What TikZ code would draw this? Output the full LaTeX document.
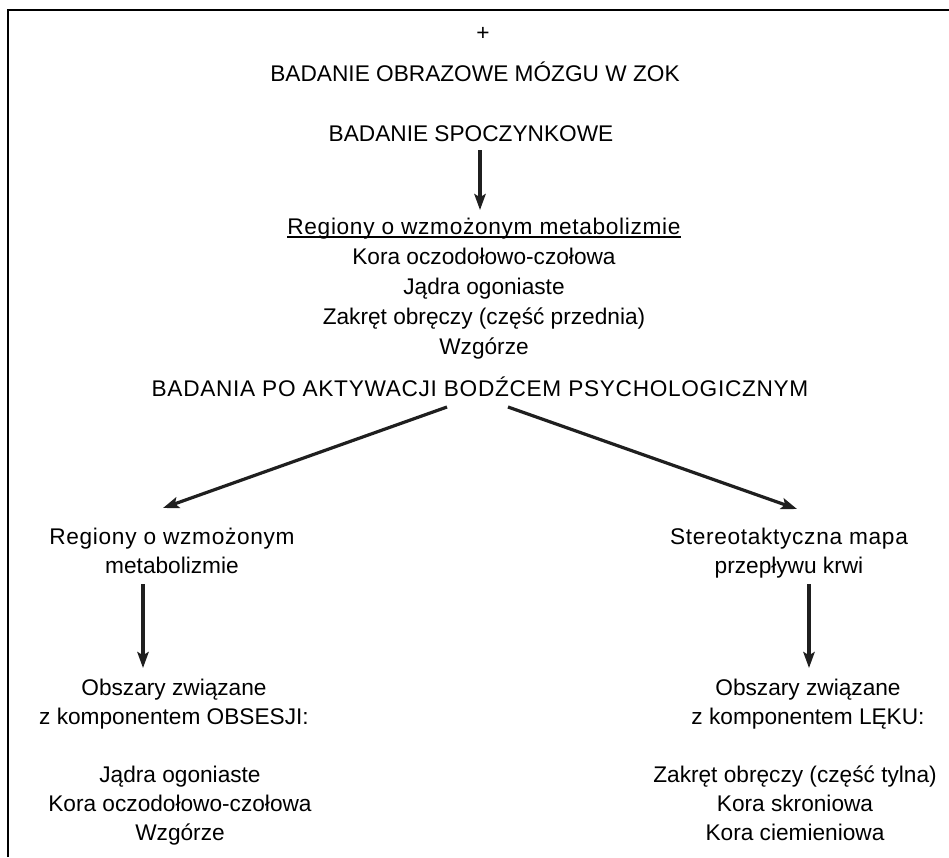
\documentclass[tikz,border=0pt]{standalone}
\usepackage{fontspec}
\setmainfont{Liberation Sans}
\newfontfamily\widefont[LetterSpace=3]{Liberation Sans}
\usetikzlibrary{arrows.meta}
\newcommand{\tstrut}{\rule{0pt}{16pt}}
\newcommand{\myul}[1]{\setbox0\hbox{#1}\rlap{\rule[-2.6pt]{\wd0}{1.1pt}}\box0}
\begin{document}
\begin{tikzpicture}[x=0.75pt,y=-0.75pt,
  txt/.style={font=\fontsize{17}{22.5}\selectfont, inner sep=0pt, align=center},
  txtb/.style={font=\fontsize{17}{21.75}\selectfont, inner sep=0pt, align=center},
  arr/.style={draw=black!88, line width=2.4pt, -{Stealth[length=12pt,width=8.5pt,inset=2.5pt]}},
  frame/.style={line width=1.3pt}]
\useasboundingbox (0,0) rectangle (949,857);
\draw[frame] (8,857) -- (8,10) -- (949,10);
\node[txt, anchor=base] (plus) at (483,40) {+};
\node[txt, anchor=base] (title) at (475,81) {BADANIE OBRAZOWE MÓZGU W ZOK};
\node[txt, anchor=base] (rest) at (471,141) {BADANIE SPOCZYNKOWE};
\node[txt, anchor=north] (reg) at (484,212.67) {\tstrut\myul{\widefont Regiony o wzmożonym metabolizmie}\\ Kora oczodołowo-czołowa\\ Jądra ogoniaste\\ Zakręt obręczy (część przednia)\\ Wzgórze};
\node[txt, anchor=base] (activ) at (480,396) {\widefont BADANIA PO AKTYWACJI BODŹCEM PSYCHOLOGICZNYM};
\node[txtb, anchor=north] (lm) at (172,522.67) {\tstrut{\widefont Regiony o wzmożonym}\\ metabolizmie};
\node[txtb, anchor=north] (rm) at (789,522.67) {\tstrut{\widefont Stereotaktyczna mapa}\\ przepływu krwi};
\node[txtb, anchor=north] (lh) at (174,673.67) {\tstrut Obszary związane\\ z komponentem OBSESJI:};
\node[txtb, anchor=north] (ll) at (180,760.67) {\tstrut Jądra ogoniaste\\ Kora oczodołowo-czołowa\\ Wzgórze};
\node[txtb, anchor=north] (rh) at (808,673.67) {\tstrut Obszary związane\\ z komponentem LĘKU:};
\node[txtb, anchor=north] (rl) at (795,760.67) {\tstrut Zakręt obręczy (część tylna)\\ Kora skroniowa\\ Kora ciemieniowa};
\draw[arr, line width=3.2pt] ([shift={(9,9)}]rest.base) -- ([shift={(-4,-2.67)}]reg.north);
\draw[arr] ([shift={(-33,11)}]activ.base) -- ([shift={(-9,-14.67)}]lm.north);
\draw[arr] ([shift={(28,11)}]activ.base) -- ([shift={(8,-13.67)}]rm.north);
\draw[arr] ([shift={(-29,61.33)}]lm.north) -- ([shift={(-31,-5.67)}]lh.north);
\draw[arr] ([shift={(20,61.33)}]rm.north) -- ([shift={(1,-5.67)}]rh.north);
\end{tikzpicture}
\end{document}
